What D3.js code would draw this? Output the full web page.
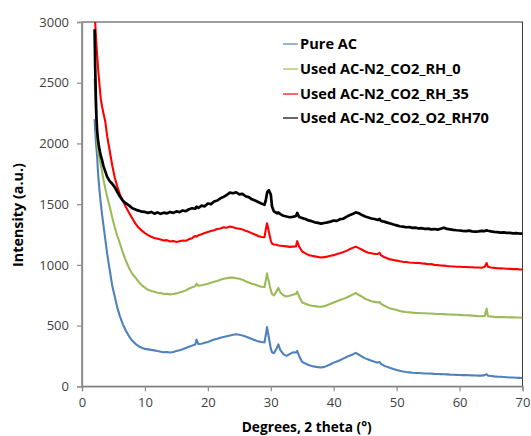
<!DOCTYPE html>
<html>
<head>
<meta charset="utf-8">
<script src="https://cdn.jsdelivr.net/npm/d3@7"></script>
<style>
  html, body { margin: 0; padding: 0; background: #fff; }
  svg { display: block; }
</style>
</head>
<body>
<svg id="chart" width="531" height="436"></svg>
<script>
// ---------------- DATA ----------------
const twoTheta = [
  2,2.1,2.2,2.3,2.4,2.5,2.6,2.8,3,3.2,3.4,3.7,4,4.4,4.8,5.2,5.6,6,6.5,7,7.5,8,8.5,9,9.5,10,
  10.5,11,11.5,12,12.5,13,13.5,14,14.5,15,15.5,16,16.5,17,17.5,18,18.2,18.5,
  19,19.5,20,20.5,21,21.5,22,22.5,23,23.5,24,24.5,25,25.5,26,26.5,27,27.5,28,28.5,
  29,29.2,29.4,29.5,29.7,30,30.2,30.5,31,31.2,31.5,32,32.5,33,33.5,34,34.2,34.5,
  35,35.5,36,36.5,37,37.5,38,38.5,39,39.5,40,40.5,41,41.5,42,42.5,43,43.5,44,44.5,45,45.5,46,46.5,47,47.3,47.5,
  48,48.5,49,49.5,50,50.5,51,51.5,52,52.5,53,53.5,54,54.5,55,55.5,56,56.5,57,57.5,58,58.5,59,59.5,
  60,60.5,61,61.5,62,62.5,63,63.5,64,64.3,64.5,65,65.5,66,66.5,67,67.5,68,68.5,69,69.5,70
];

const pureAC = [
  2200,2100,2020,1960,1900,1800,1720,1600,1500,1410,1330,1210,1090,960,830,740,650,580,510,455,410,375,350,330,318,308,
  304,300,296,290,285,280,282,278,283,290,297,305,315,325,335,345,385,348,
  350,358,365,375,385,392,400,406,412,418,425,428,425,418,410,400,390,380,370,365,
  362,420,488,455,400,310,280,272,320,345,300,265,250,265,280,278,292,250,
  200,188,175,168,162,158,155,160,170,182,195,205,215,228,240,252,262,275,260,245,230,220,210,202,195,200,185,
  170,160,150,142,135,128,122,118,115,112,110,109,108,106,105,104,102,101,100,99,98,96,95,94,
  93,92,92,91,90,89,88,88,92,100,88,85,82,80,79,77,75,73,72,70,69,68
];

const usedRH0 = [
  2530,2400,2250,2100,2000,1965,1920,1870,1820,1765,1705,1630,1560,1480,1390,1310,1240,1180,1100,1030,972,925,895,860,832,812,
  795,785,778,770,768,760,762,757,760,765,772,780,790,805,815,825,845,828,
  832,838,845,852,860,868,878,885,890,895,895,890,885,878,865,855,845,838,828,820,
  818,870,930,905,860,790,760,748,790,810,775,750,740,745,755,760,780,740,
  690,680,670,664,660,656,655,660,670,680,690,700,710,720,730,742,755,768,752,738,720,710,700,695,690,695,680,
  665,652,640,634,628,620,615,612,610,607,605,604,602,601,600,599,598,596,595,594,592,591,590,589,
  588,586,585,584,582,580,578,577,580,640,578,575,572,570,570,570,569,568,568,567,566,565
];

const usedRH35 = [
  3080,2990,2900,2810,2730,2660,2590,2470,2360,2300,2250,2180,2060,1940,1820,1720,1645,1585,1525,1475,1428,1382,1340,1305,1282,1262,
  1245,1232,1222,1215,1208,1200,1204,1192,1196,1188,1194,1200,1198,1212,1220,1238,1232,1244,
  1252,1262,1270,1278,1285,1296,1300,1310,1306,1315,1310,1302,1298,1292,1280,1272,1260,1250,1238,1230,
  1228,1290,1342,1320,1270,1200,1175,1168,1165,1160,1158,1155,1152,1148,1150,1152,1195,1150,
  1110,1095,1082,1075,1070,1065,1060,1064,1068,1075,1080,1090,1095,1105,1115,1128,1140,1150,1138,1125,1110,1100,1095,1090,1090,1098,1080,
  1065,1055,1045,1040,1035,1030,1025,1024,1020,1018,1015,1016,1012,1010,1005,1006,1000,998,995,994,990,988,987,985,
  985,983,982,980,980,978,978,976,985,1015,985,978,975,972,971,970,968,967,965,966,963,962
];

const usedRH70 = [
  2940,2620,2380,2210,2110,2050,2005,1945,1895,1860,1815,1770,1725,1690,1668,1640,1602,1565,1528,1506,1488,1466,1455,1447,1438,1436,
  1428,1436,1422,1432,1420,1430,1424,1436,1428,1440,1434,1448,1442,1458,1466,1462,1480,1470,
  1488,1482,1505,1500,1522,1530,1548,1560,1575,1595,1590,1598,1580,1584,1565,1558,1540,1530,1518,1505,
  1495,1530,1590,1605,1615,1580,1480,1440,1425,1432,1418,1405,1398,1392,1395,1402,1428,1395,
  1385,1378,1366,1360,1350,1346,1340,1345,1350,1356,1365,1362,1376,1380,1395,1408,1418,1432,1425,1410,1398,1390,1382,1378,1370,1378,1362,
  1356,1348,1340,1332,1325,1318,1315,1310,1312,1305,1307,1300,1302,1296,1298,1292,1295,1290,1298,1306,1296,1292,1288,1285,
  1283,1280,1278,1282,1276,1274,1276,1280,1278,1284,1281,1276,1272,1270,1266,1268,1263,1264,1260,1262,1258,1258
];

const seriesNames = ["Pure AC", "Used AC-N2_CO2_RH_0", "Used AC-N2_CO2_RH_35", "Used AC-N2_CO2_O2_RH70"];
const seriesValues = [pureAC, usedRH0, usedRH35, usedRH70];
const seriesColors = ["#4F81BD", "#9BBB59", "#FF0000", "#000000"];
const xTicks = [0, 10, 20, 30, 40, 50, 60, 70];
const yTicks = [0, 500, 1000, 1500, 2000, 2500, 3000];
const xTitle = "Degrees, 2 theta (°)";
const yTitle = "Intensity (a.u.)";

// ---------------- CHART ----------------
const svg = d3.select("#chart");
const L = 82, R = 522.5, T = 22, B = 386.3;
const x = d3.scaleLinear().domain([0, 70]).range([L, R]);
const y = d3.scaleLinear().domain([0, 3000]).range([B, T]);
const font = "'Open Sans', 'Liberation Sans', sans-serif";

function fitWidth(sel, target) {
  const w = sel.node().getComputedTextLength();
  const fs = parseFloat(sel.attr("font-size"));
  sel.attr("font-size", (fs * target / w).toFixed(2));
}

svg.append("defs").append("clipPath").attr("id", "plotclip")
  .append("rect").attr("x", L).attr("y", T).attr("width", R - L).attr("height", B - T);

// plot frame
svg.append("rect").attr("x", L).attr("y", T).attr("width", R - L).attr("height", B - T)
  .attr("fill", "none").attr("stroke", "#3c3c3c").attr("stroke-width", 1);

// series lines
const line = d3.line().x((d, i) => x(twoTheta[i])).y(d => y(d));
const gLines = svg.append("g").attr("clip-path", "url(#plotclip)");
seriesValues.forEach((vals, k) => {
  gLines.append("path").datum(vals)
    .attr("d", line)
    .attr("fill", "none")
    .attr("stroke", seriesColors[k])
    .attr("stroke-width", k === 3 ? 2.7 : 2.1)
    .attr("stroke-linejoin", "round");
});

// axes
const axisColor = "#8c8c8c";
const gx = svg.append("g").attr("transform", `translate(0,${B})`)
  .call(d3.axisBottom(x).tickValues(xTicks).tickSize(5).tickPadding(6).tickFormat(d3.format("d")));
const gy = svg.append("g").attr("transform", `translate(${L},0)`)
  .call(d3.axisLeft(y).tickValues(yTicks).tickSize(5).tickPadding(8).tickFormat(d3.format("d")));
[gx, gy].forEach(g => {
  g.select(".domain").attr("stroke", axisColor).attr("stroke-width", 1.3);
  g.selectAll(".tick line").attr("stroke", axisColor).attr("stroke-width", 1.2);
  g.selectAll(".tick text").attr("fill", "#404040").attr("font-family", font).attr("font-size", 13);
});
gx.selectAll(".tick text").attr("dy", "0.71em");

// axis titles
const xt = svg.append("text").attr("x", 306.7).attr("y", 432).attr("text-anchor", "middle")
  .attr("font-family", font).attr("font-weight", "bold").attr("font-size", 13).attr("fill", "#000")
  .text(xTitle);
fitWidth(xt, 130);
const yt = svg.append("text").attr("transform", "translate(23,215) rotate(-90)").attr("text-anchor", "middle")
  .attr("font-family", font).attr("font-weight", "bold").attr("font-size", 13).attr("fill", "#000")
  .text(yTitle);
fitWidth(yt, 104);

// legend
const legendY = [44, 69, 94, 118];
const legendW = [54, 146, 154, 189];
const lg = svg.append("g");
seriesNames.forEach((name, k) => {
  lg.append("line").attr("x1", 283).attr("x2", 298).attr("y1", legendY[k]).attr("y2", legendY[k])
    .attr("stroke", seriesColors[k]).attr("stroke-width", 1.2);
  const t = lg.append("text").attr("x", 300).attr("y", legendY[k] + 4.5)
    .attr("font-family", font).attr("font-weight", "bold").attr("font-size", 13).attr("fill", "#000")
    .text(name);
  if (k === 3) fitWidth(t, legendW[k]);
});
const fsLegend = lg.selectAll("text").filter((d, i) => i === 3).attr("font-size");
lg.selectAll("text").attr("font-size", fsLegend);
</script>
</body>
</html>
